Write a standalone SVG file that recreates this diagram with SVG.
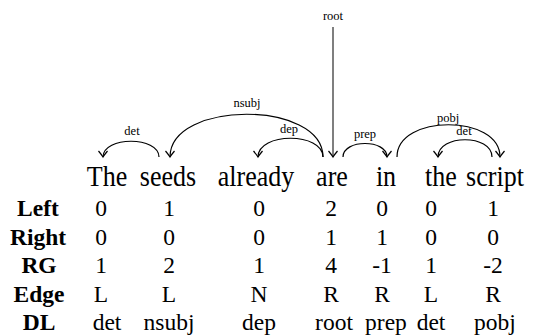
<svg xmlns="http://www.w3.org/2000/svg" width="537" height="336" viewBox="0 0 537 336">
<style>
.w{font-family:"Liberation Serif",serif;font-size:26px;text-anchor:middle;fill:#000}
.t{font-family:"Liberation Serif",serif;font-size:23.5px;text-anchor:middle;fill:#000}
.h{font-family:"Liberation Serif",serif;font-size:23.5px;font-weight:bold;text-anchor:middle;fill:#000}
.l{font-family:"Liberation Serif",serif;font-size:12.5px;text-anchor:middle;fill:#000}
.a{fill:none;stroke:#000;stroke-width:1.2}
</style>
<defs>
<marker id="ah" markerUnits="userSpaceOnUse" markerWidth="14" markerHeight="14" viewBox="-8 -7 10 14" refX="0" refY="0" orient="auto">
<path d="M-6,-4.5 Q-2,-1.2 0,0 Q-2,1.2 -6,4.5" fill="none" stroke="#000" stroke-width="1.2"/>
</marker>
</defs>
<rect width="537" height="336" fill="#fff"/>
<g id="connectors">
<path class="a" d="M159,157 C159,136 103,136 103,157" marker-end="url(#ah)"/>
<path class="a" d="M323,157 C323,100 170,100 170,157" marker-end="url(#ah)"/>
<path class="a" d="M323,157 C323,132 258,132 258,157" marker-end="url(#ah)"/>
<path class="a" d="M343,157 C343,139 387,139 387,157" marker-end="url(#ah)"/>
<path class="a" d="M397,157 C397,114 500,114 500,157" marker-end="url(#ah)"/>
<path class="a" d="M492,157 C492,134 438,134 438,157" marker-end="url(#ah)"/>
<line x1="333" y1="27" x2="333" y2="157" stroke="#555" stroke-width="1.5" marker-end="url(#ah)"/>
<text class="l" x="132" y="135">det</text>
<text class="l" x="247" y="107">nsubj</text>
<text class="l" x="289" y="133">dep</text>
<text class="l" x="333" y="20">root</text>
<text class="l" x="365" y="138">prep</text>
<text class="l" x="448" y="122">pobj</text>
<text class="l" x="464" y="135">det</text>
</g>
<g id="words" transform="translate(0,186) scale(1,1.1) translate(0,-186)">
<text class="w" x="107" y="186">The</text>
<text class="w" x="168" y="186">seeds</text>
<text class="w" x="256" y="186">already</text>
<text class="w" x="332" y="186">are</text>
<text class="w" x="386" y="186">in</text>
<text class="w" x="441" y="186">the</text>
<text class="w" x="495" y="186">script</text>
</g>
<g id="table">
<text class="h" x="38" y="216">Left</text>
<text class="h" x="38" y="245">Right</text>
<text class="h" x="39" y="273">RG</text>
<text class="h" x="39" y="302">Edge</text>
<text class="h" x="39" y="330">DL</text>
<g>
<text class="t" x="101" y="216">0</text><text class="t" x="169" y="216">1</text><text class="t" x="259" y="216">0</text><text class="t" x="331" y="216">2</text><text class="t" x="382" y="216">0</text><text class="t" x="431" y="216">0</text><text class="t" x="493" y="216">1</text>
</g>
<g>
<text class="t" x="101" y="245">0</text><text class="t" x="169" y="245">0</text><text class="t" x="259" y="245">0</text><text class="t" x="331" y="245">1</text><text class="t" x="382" y="245">1</text><text class="t" x="431" y="245">0</text><text class="t" x="493" y="245">0</text>
</g>
<g>
<text class="t" x="101" y="273">1</text><text class="t" x="169" y="273">2</text><text class="t" x="259" y="273">1</text><text class="t" x="331" y="273">4</text><text class="t" x="382" y="273">-1</text><text class="t" x="431" y="273">1</text><text class="t" x="493" y="273">-2</text>
</g>
<g>
<text class="t" x="101" y="302">L</text><text class="t" x="169" y="302">L</text><text class="t" x="259" y="302">N</text><text class="t" x="331" y="302">R</text><text class="t" x="382" y="302">R</text><text class="t" x="431" y="302">L</text><text class="t" x="493" y="302">R</text>
</g>
<g>
<text class="t" x="107" y="330">det</text><text class="t" x="169" y="330">nsubj</text><text class="t" x="259" y="330">dep</text><text class="t" x="334" y="330">root</text><text class="t" x="386" y="330">prep</text><text class="t" x="431" y="330">det</text><text class="t" x="495" y="330">pobj</text>
</g>
</g>
</svg>
